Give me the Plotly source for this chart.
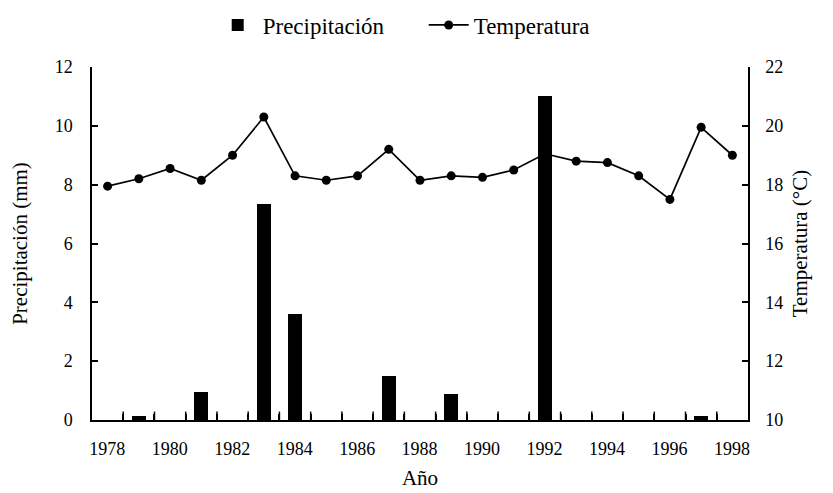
import plotly.graph_objects as go

years = list(range(1978, 1999))
precip = [0, 0.15, 0, 0.95, 0, 7.35, 3.6, 0, 0, 1.5, 0, 0.9, 0, 0, 11.0, 0, 0, 0, 0, 0.15, 0]
temp = [17.95, 18.2, 18.55, 18.15, 19.0, 20.3, 18.3, 18.15, 18.3, 19.2, 18.15, 18.3,
        18.25, 18.5, 19.05, 18.8, 18.75, 18.3, 17.5, 19.95, 19.0]
# tick marks sit between years (category boundaries); labels on every other year
boundaries = [y - 0.5 for y in range(1978, 2000)]
boundary_text = [str(int(b - 0.5)) if (b > 1978 and int(b - 0.5) % 2 == 0) else ""
                 for b in boundaries]

font_family = "Liberation Serif"
# page body has an 8px default margin, so the figure is offset by 8px
OFF = 8
L, R, T, B = 92 - OFF, 85, 67 - OFF, 73
W, H = 833 - OFF, 493 - OFF
px_per_year = (W - L - R) / (boundaries[-1] - boundaries[0])

fig = go.Figure()
fig.add_trace(go.Bar(
    x=years, y=precip, name="Precipitación", yaxis="y2",
    marker=dict(color="black", line=dict(width=0)), width=0.45,
))
fig.add_trace(go.Scatter(
    x=years, y=temp, name="Temperatura", yaxis="y", mode="lines+markers",
    line=dict(color="black", width=1.7),
    marker=dict(color="black", size=9, symbol="circle"),
))
# inward tick marks at category boundaries (lower half clipped by the plot area)
fig.add_trace(go.Scatter(
    x=boundaries[1:-1], y=[0] * (len(boundaries) - 2), yaxis="y2", mode="markers",
    marker=dict(symbol="line-ns", size=12, line=dict(color="black", width=1.5)),
    showlegend=False, hoverinfo="skip", cliponaxis=True,
))

fig.update_layout(
    width=W, height=H,
    margin=dict(l=L, r=R, t=T, b=B, autoexpand=False),
    paper_bgcolor="white", plot_bgcolor="white",
    font=dict(family=font_family, color="black", size=18),
    showlegend=True,
    legend=dict(orientation="h", x=0.184, xanchor="left", y=1 - (25 - OFF) / H,
                yanchor="middle", yref="container",
                font=dict(size=23, family=font_family),
                itemwidth=40, tracegroupgap=0, entrywidth=156),
    bargap=0,
    xaxis=dict(
        range=[boundaries[0], boundaries[-1]], tickmode="array", tickvals=boundaries,
        ticktext=boundary_text, ticks="inside", ticklen=6, tickcolor="black",
        tickwidth=1.5, showgrid=False, automargin=False,
        showline=True, linecolor="black", linewidth=1.5, zeroline=False,
        ticklabelstandoff=12, ticklabelshift=-int(round(px_per_year / 2)),
        tickfont=dict(size=18),
        title=dict(text="Año", font=dict(size=21), standoff=12),
    ),
    yaxis=dict(
        side="right", range=[10, 22], dtick=2, tick0=10, ticks="inside", ticklen=6,
        tickcolor="black", tickwidth=1.5, showgrid=False, showline=True, automargin=False,
        linecolor="black", linewidth=1.5, zeroline=False, ticklabelstandoff=12,
        tickfont=dict(size=18),
        title=dict(text="Temperatura (°C)", font=dict(size=21), standoff=10),
    ),
    yaxis2=dict(
        side="left", overlaying="y", range=[0, 12], dtick=2, tick0=0, ticks="inside",
        ticklen=6, tickcolor="black", tickwidth=1.5, showgrid=False, showline=True,
        automargin=False,
        linecolor="black", linewidth=1.5, zeroline=False, ticklabelstandoff=14,
        tickfont=dict(size=18),
        title=dict(text="Precipitación (mm)", font=dict(size=21), standoff=24),
    ),
)

fig.write_html("out.html")
